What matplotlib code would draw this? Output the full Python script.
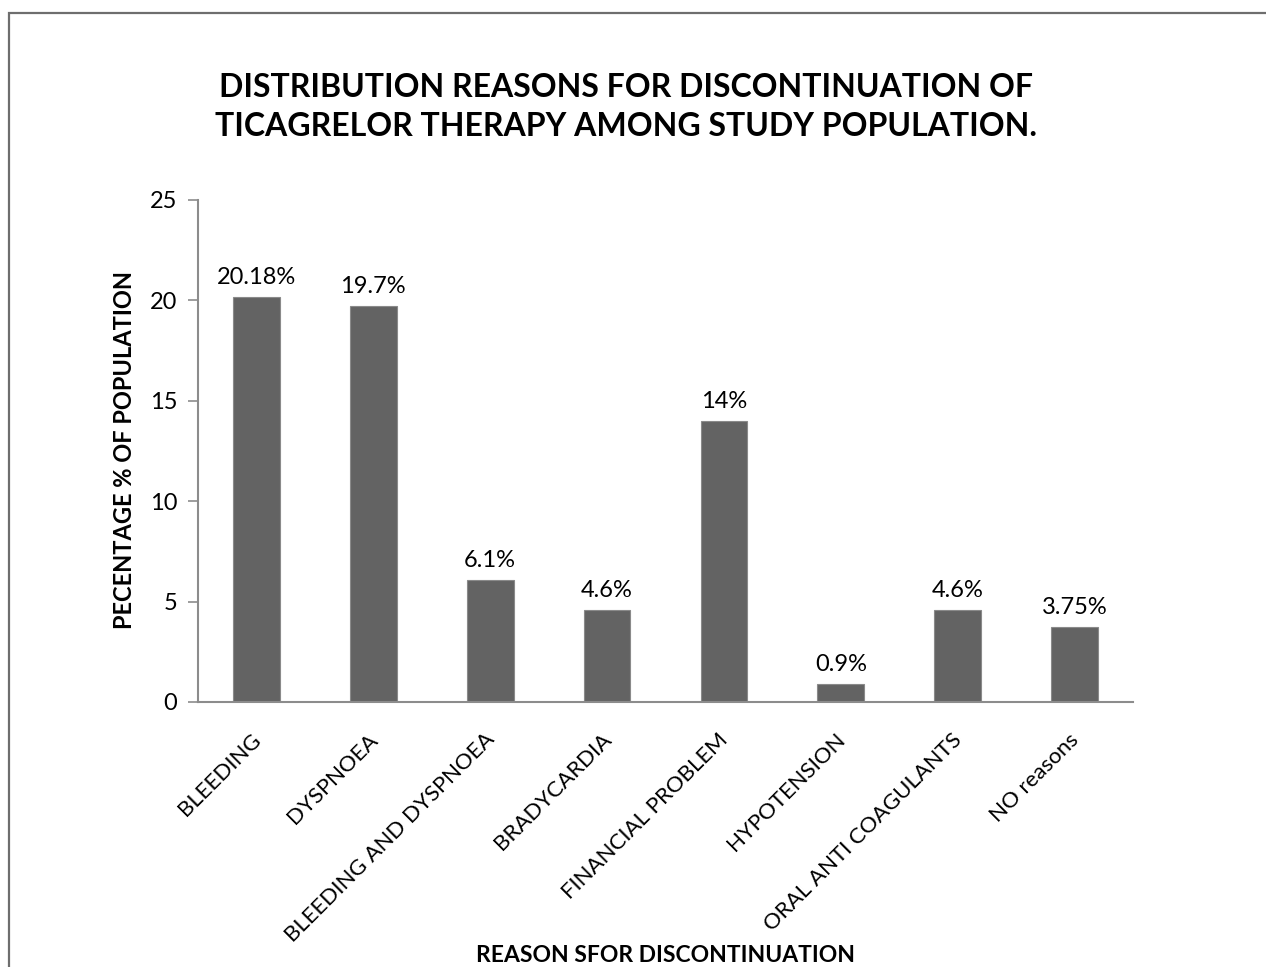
import matplotlib
matplotlib.use("Agg")
import matplotlib.pyplot as plt
import matplotlib.transforms as mtransforms
from matplotlib.patches import Rectangle

# reasons for stopping ticagrelor, % of study population
reasons = [
    "BLEEDING",
    "DYSPNOEA",
    "BLEEDING AND DYSPNOEA",
    "BRADYCARDIA",
    "FINANCIAL PROBLEM",
    "HYPOTENSION",
    "ORAL ANTI COAGULANTS",
    "NO reasons",
]
percent = [20.18, 19.7, 6.1, 4.6, 14, 0.9, 4.6, 3.75]
value_labels = ["20.18%", "19.7%", "6.1%", "4.6%", "14%", "0.9%", "4.6%", "3.75%"]
yticks = [0, 5, 10, 15, 20, 25]

plt.rcParams["font.family"] = ["Lato", "DejaVu Sans"]

W, H = 1266, 967
fig = plt.figure(figsize=(W / 100, H / 100), dpi=100)
ax = fig.add_axes([198 / W, 1 - 702 / H, (1133 - 198) / W, (702 - 200) / H])

# chart frame (runs off the right and bottom edges)
fig.patches.append(
    Rectangle((9 / W, -0.05), 1.2, 1 - 13 / H + 0.05, transform=fig.transFigure,
              fill=False, edgecolor="#6e6e6e", linewidth=1.6, zorder=0)
)

x = range(len(reasons))
bars = ax.bar(x, percent, width=0.4, color="#636363", edgecolor="#8a8a8a",
              linewidth=0.8, zorder=2)
for b, lab in zip(bars, value_labels):
    ax.annotate(lab, (b.get_x() + b.get_width() / 2, b.get_height()),
                xytext=(0, 9), textcoords="offset pixels",
                ha="center", va="bottom", fontsize=17, color="black")

ax.set_xlim(-0.5, len(reasons) - 0.5)
ax.set_ylim(0, 25)
ax.set_yticks(yticks)
ax.set_xticks(list(x))
ax.set_xticklabels(reasons, rotation=45, ha="right", va="top",
                   rotation_mode="anchor", fontsize=16)
ax.tick_params(axis="x", length=0, pad=14)
ax.tick_params(axis="y", length=7, width=1.2, color="#8c8c8c", labelsize=17, pad=8)

# nudge the slanted category names down and left a little
shift = mtransforms.ScaledTranslation(-6 / 100, -8 / 100, fig.dpi_scale_trans)
for lbl in ax.get_xticklabels():
    lbl.set_transform(lbl.get_transform() + shift)

for side in ("top", "right"):
    ax.spines[side].set_visible(False)
for side in ("left", "bottom"):
    ax.spines[side].set_color("#8c8c8c")
    ax.spines[side].set_linewidth(1.5)

fig.text(125 / W, 1 - 450 / H, "PECENTAGE % OF POPULATION", rotation=90,
         ha="center", va="center", fontsize=17, fontweight="bold")
fig.text(666 / W, 1 - 956 / H, "REASON SFOR DISCONTINUATION",
         ha="center", va="center", fontsize=16.5, fontweight="bold")
fig.text(626 / W, 1 - 107 / H,
         "DISTRIBUTION REASONS FOR DISCONTINUATION OF\nTICAGRELOR THERAPY AMONG STUDY POPULATION.",
         ha="center", va="center", fontsize=23, fontweight="bold", linespacing=1.45)

fig.savefig("out.png", dpi=100)
